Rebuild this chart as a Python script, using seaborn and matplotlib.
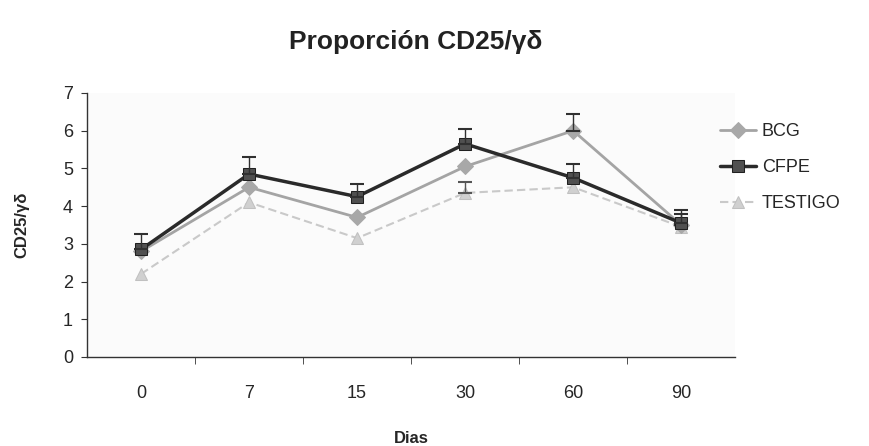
import matplotlib
matplotlib.use("Agg")
import matplotlib.pyplot as plt
import seaborn as sns
import pandas as pd
import numpy as np

dias = ["0", "7", "15", "30", "60", "90"]
bcg = [2.8, 4.5, 3.7, 5.05, 6.0, 3.5]
cfpe = [2.85, 4.85, 4.25, 5.65, 4.75, 3.55]
testigo = [2.2, 4.1, 3.15, 4.35, 4.5, 3.45]
bcg_err = [0.0, 0.0, 0.0, 0.0, 0.45, 0.3]
cfpe_err = [0.4, 0.45, 0.33, 0.4, 0.37, 0.35]
testigo_err = [0.0, 0.0, 0.0, 0.3, 0.0, 0.0]

sns.set_style("white")
plt.rcParams['font.family'] = ['Liberation Sans', 'DejaVu Sans']

fig = plt.figure(figsize=(8.69, 4.46), dpi=100)
ax = fig.add_axes([0.1001, 0.1996, 0.746, 0.592])

pos = np.arange(len(dias))
df = pd.DataFrame({
    "pos": np.tile(pos, 3),
    "val": bcg + cfpe + testigo,
    "serie": ["BCG"] * 6 + ["CFPE"] * 6 + ["TESTIGO"] * 6,
})

styles = {
    "BCG": dict(color="#a4a4a4", marker="D", ms=8, lw=2.0, ls="-", mfc="#a8a8a8", mec="#a8a8a8", z=3),
    "CFPE": dict(color="#2a2a2a", marker="s", ms=9, lw=2.5, ls="-", mfc="#505050", mec="#202020", z=4),
    "TESTIGO": dict(color="#c9c9c9", marker="^", ms=8, lw=1.5, ls=(0, (4, 2)), mfc="#d0d0d0", mec="#c0c0c0", z=2),
}
errs = {"BCG": bcg_err, "CFPE": cfpe_err, "TESTIGO": testigo_err}

for name, st in styles.items():
    sub = df[df.serie == name]
    sns.lineplot(data=sub, x="pos", y="val", ax=ax, color=st["color"], lw=st["lw"],
                 linestyle=st["ls"], marker=st["marker"], markersize=st["ms"],
                 markerfacecolor=st["mfc"], markeredgecolor=st["mec"], label=name,
                 zorder=st["z"], legend=True)
    e = np.array(errs[name])
    mask = e > 0
    ax.errorbar(sub.pos.values[mask], sub.val.values[mask],
                yerr=[np.zeros(mask.sum()), e[mask]], fmt="none",
                ecolor="#303030" if name != "TESTIGO" else "#555555",
                elinewidth=1.0, capsize=5, capthick=1.5, zorder=st["z"])

ax.set_xlim(-0.5, 5.5)
ax.set_ylim(0, 7)
ax.set_yticks(range(0, 8))
ax.set_xticks(pos)
ax.set_xticklabels(dias)
ax.set_xticks(np.arange(0.5, 5.5, 1.0), minor=True)
ax.tick_params(axis="x", which="major", length=0, pad=20, labelsize=13)
ax.tick_params(axis="x", which="minor", length=5, direction="out", color="#333333", bottom=True)
ax.tick_params(axis="y", length=4, direction="out", left=True, labelsize=13, pad=6, color="#333333")

for s in ["top", "right"]:
    ax.spines[s].set_visible(False)
for s in ["left", "bottom"]:
    ax.spines[s].set_color("#333333")
    ax.spines[s].set_linewidth(1.0)

ax.set_facecolor("#fbfbfb")
ax.set_xlabel("Dias", fontsize=12, fontweight="bold", labelpad=21)
ax.set_ylabel("CD25/γδ", fontsize=12, fontweight="bold", labelpad=24)
fig.text(0.478, 0.905, "Proporción CD25/γδ", fontsize=19, fontweight="bold",
         ha="center", va="center", color="#222222")

leg = ax.legend(loc="upper left", bbox_to_anchor=(0.977, 0.886), frameon=False,
                fontsize=13, handlelength=2.0, labelspacing=1.05, handletextpad=0.3,
                borderaxespad=0, borderpad=0)

fig.savefig("out.png", dpi=100)
